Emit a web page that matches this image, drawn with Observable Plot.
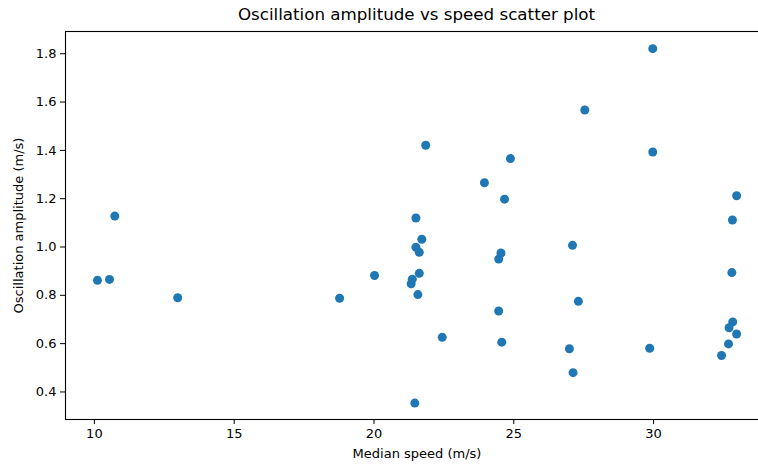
<!DOCTYPE html>
<html>
<head>
<meta charset="utf-8">
<script src="https://cdn.jsdelivr.net/npm/d3@7"></script>
<script src="https://cdn.jsdelivr.net/npm/@observablehq/plot@0.6"></script>
<style>
  html, body { margin: 0; padding: 0; background: #fff; overflow: hidden; width: 758px; height: 465px; }
  #chart svg { max-width: none !important; display: block; }
  #title { width: 770px; box-sizing: border-box; padding-left: 65px; padding-right: 2px;
           height: 24px; line-height: 29px; text-align: center;
           font-family: "DejaVu Sans", sans-serif; font-size: 16.7px; color: #000; }
</style>
</head>
<body>
<div id="title">Oscillation amplitude vs speed scatter plot</div>
<div id="chart"></div>
<script>
const speed = [10.11, 10.54, 10.73, 12.98, 18.77, 20.02, 21.50, 21.71, 21.50, 21.62,
               21.62, 21.37, 21.33, 21.57, 22.44, 21.46, 21.85, 24.88, 23.95, 24.67,
               24.54, 24.46, 27.10, 24.46, 24.57, 27.31, 26.99, 27.12, 27.54, 29.97,
               29.97, 32.97, 32.82, 32.80, 29.86, 32.83, 32.70, 32.97, 32.68, 32.43];
const amplitude = [0.862, 0.866, 1.128, 0.790, 0.788, 0.882, 1.120, 1.032, 0.999, 0.978,
                   0.891, 0.867, 0.848, 0.803, 0.626, 0.354, 1.421, 1.366, 1.266, 1.198,
                   0.975, 0.950, 1.007, 0.735, 0.606, 0.775, 0.579, 0.480, 1.567, 1.821,
                   1.393, 1.212, 1.112, 0.894, 0.581, 0.690, 0.666, 0.640, 0.599, 0.551];
const xTicks = [10, 15, 20, 25, 30];
const yTicks = [0.4, 0.6, 0.8, 1.0, 1.2, 1.4, 1.6, 1.8];

const data = speed.map((s, i) => ({speed: s, amplitude: amplitude[i]}));

const chart = Plot.plot({
  width: 770,
  height: 441,
  marginTop: 7,
  marginBottom: 46,
  marginLeft: 65,
  marginRight: 2,
  style: {fontFamily: "DejaVu Sans, sans-serif", fontSize: "13px", color: "#000", background: "#fff", maxWidth: "none"},
  x: {domain: [8.967, 34.11]},
  y: {domain: [0.286, 1.892]},
  marks: [
    Plot.frame({stroke: "#000", strokeWidth: 1.1}),
    Plot.axisX({ticks: xTicks, tickSize: 5, tickPadding: 4, tickFormat: d => String(d),
                label: "Median speed (m/s)", labelAnchor: "center", labelArrow: "none", labelOffset: 38}),
    Plot.axisY({ticks: yTicks, tickSize: 5, tickPadding: 4, tickFormat: d => d.toFixed(1),
                label: "Oscillation amplitude (m/s)", labelAnchor: "center", labelArrow: "none", labelOffset: 52}),
    Plot.dot(data, {x: "speed", y: "amplitude", r: 4.5, fill: "#1f77b4", stroke: "none"})
  ]
});
document.getElementById("chart").appendChild(chart);
</script>
</body>
</html>
